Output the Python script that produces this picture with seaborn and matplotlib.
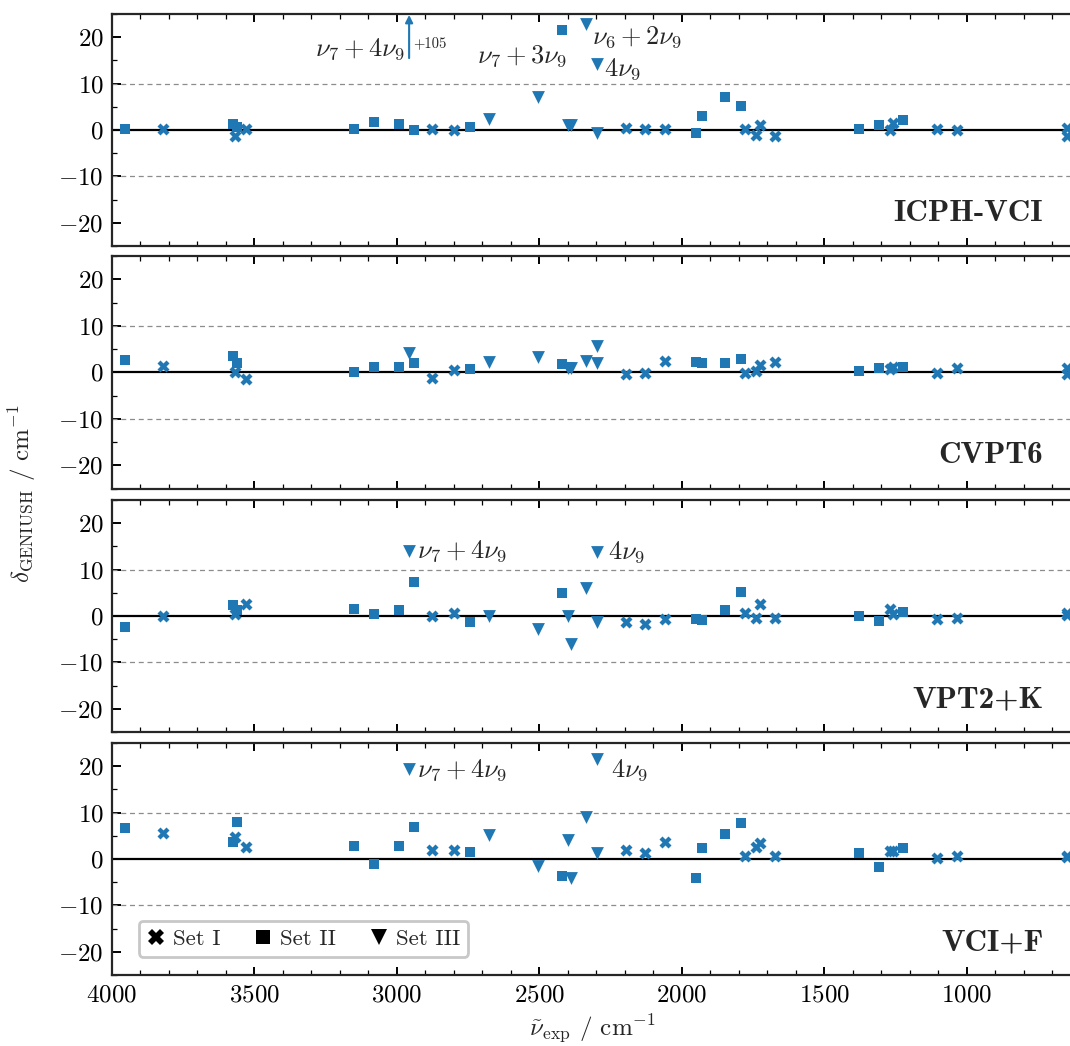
import numpy as np
import pandas as pd
import matplotlib
matplotlib.use("Agg")
import matplotlib.pyplot as plt
import seaborn as sns
from matplotlib.lines import Line2D
from matplotlib.ticker import MultipleLocator

# Experimental band origins (cm^-1) and the set each band belongs to
nu_exp = [3954, 3822, 3574, 3562, 3567, 3530, 3150, 3079, 2994, 2957,
          2939, 2875, 2801, 2743, 2676, 2503, 2421, 2399, 2390, 2337,
          2299, 2299, 2194, 2130, 2060, 1951, 1930, 1848, 1793, 1778,
          1738, 1726, 1672, 1378, 1307, 1270, 1258, 1222, 1105, 1035,
          646, 648]
band_set = ["Set II", "Set I", "Set II", "Set II", "Set I", "Set I", "Set II", "Set II", "Set II", "Set III",
            "Set II", "Set I", "Set I", "Set II", "Set III", "Set III", "Set II", "Set III", "Set III", "Set III",
            "Set III", "Set III", "Set I", "Set I", "Set I", "Set II", "Set II", "Set II", "Set II", "Set I",
            "Set I", "Set I", "Set I", "Set II", "Set II", "Set I", "Set I", "Set II", "Set I", "Set I",
            "Set I", "Set I"]

# Deviations from the GENIUSH reference (cm^-1), one list per method
delta_icph_vci = [0.2, 0.2, 1.3, 0.6, -1.4, 0.2, 0.2, 1.7, 1.4, 105.0,
                  -0.1, 0.3, 0.0, 0.6, 2.4, 7.2, 21.5, 1.1, 1.0, 22.9,
                  14.2, -0.7, 0.5, 0.2, 0.2, -0.7, 3.1, 7.2, 5.2, 0.2,
                  -1.0, 1.0, -1.4, 0.2, 1.0, 0.0, 1.6, 2.2, 0.2, 0.0,
                  0.4, -1.4]
delta_cvpt6 = [2.6, 1.4, 3.4, 1.9, 0.1, -1.5, 0.1, 1.1, 1.1, 4.1,
               1.9, -1.3, 0.5, 0.8, 2.1, 3.3, 1.7, 1.0, 0.9, 2.4,
               5.7, 1.9, -0.4, -0.2, 2.4, 2.3, 1.9, 1.9, 2.9, -0.2,
               0.3, 1.5, 2.1, 0.3, 1.0, 0.6, 1.2, 1.2, -0.2, 0.9,
               1.0, -0.3]
delta_vpt2k = [-2.3, 0.0, 2.4, 1.2, 0.5, 2.5, 1.6, 0.4, 1.2, 14.0,
               7.4, 0.0, 0.6, -1.2, -0.1, -2.8, 4.9, 0.1, -6.1, 6.0,
               13.8, -1.2, -1.2, -1.8, -0.6, -0.6, -0.9, 1.4, 5.2, 0.6,
               -0.4, 2.5, -0.5, -0.1, -1.1, 1.6, 0.5, 0.9, -0.6, -0.4,
               0.6, 0.3]
delta_vcif = [6.6, 5.5, 3.7, 8.0, 4.8, 2.5, 2.8, -1.1, 2.8, 19.3,
              6.8, 1.9, 1.9, 1.6, 5.2, -1.5, -3.7, 4.2, -4.2, 9.1,
              21.6, 1.4, 1.9, 1.2, 3.7, -4.0, 2.3, 5.4, 7.7, 0.6,
              2.6, 3.4, 0.6, 1.2, -1.7, 1.7, 1.7, 2.3, 0.2, 0.6,
              0.6, 0.5]

methods = ["ICPH-VCI", "CVPT6", "VPT2+K", "VCI+F"]
deltas = [delta_icph_vci, delta_cvpt6, delta_vpt2k, delta_vcif]

# Assignments written next to selected bands: (panel, band index, label, dx px, dy px, ha)
assignments = [
    (0, 16, r"$\nu_7+3\nu_9$", 6, -32, "right"),
    (0, 19, r"$\nu_6+2\nu_9$", 6, -20, "left"),
    (0, 20, r"$4\nu_9$", 7, -11, "left"),
    (2, 9, r"$\nu_7+4\nu_9$", 8, -6, "left"),
    (2, 20, r"$4\nu_9$", 11, -7, "left"),
    (3, 9, r"$\nu_7+4\nu_9$", 8, -7, "left"),
    (3, 20, r"$4\nu_9$", 14, -18, "left"),
]
offscale_label = r"$\nu_7+4\nu_9$"

set_markers = {"Set I": "X", "Set II": "s", "Set III": "v"}
set_sizes = {"Set I": 75, "Set II": 62, "Set III": 85}
legend_sizes = {"Set I": 11, "Set II": 10, "Set III": 11.5}

frames = []
for m, d in zip(methods, deltas):
    frames.append(pd.DataFrame({"nu": nu_exp, "delta": d, "set": band_set, "method": m}))
data = pd.concat(frames, ignore_index=True)

sns.set_style("ticks")
plt.rcParams.update({
    "font.family": "serif",
    "font.serif": ["cmr10"],
    "mathtext.fontset": "cm",
    "axes.formatter.use_mathtext": True,
    "axes.linewidth": 1.6,
    "xtick.direction": "in",
    "ytick.direction": "in",
    "xtick.major.size": 6,
    "xtick.minor.size": 3.5,
    "ytick.major.size": 6.5,
    "ytick.minor.size": 3.5,
    "xtick.major.width": 1.4,
    "ytick.major.width": 1.4,
    "xtick.minor.width": 0.9,
    "ytick.minor.width": 0.9,
    "xtick.labelsize": 18,
    "ytick.labelsize": 18,
    "xtick.color": "black",
    "ytick.color": "black",
})

W, H = 1070, 1046
fig = plt.figure(figsize=(W / 100, H / 100), dpi=100)
left_px, right_px = 112, 1072
panel_px = [(14, 246), (256, 488.5), (500, 732), (743, 975)]
color = "#1f77b4"
ylo, yhi = -25, 25

axes = []
for i, (top, bot) in enumerate(panel_px):
    ax = fig.add_axes([left_px / W, 1 - bot / H, (right_px - left_px) / W, (bot - top) / H])
    axes.append(ax)
    sub = data[data["method"] == methods[i]]
    inside = sub[sub["delta"] <= yhi]
    for s_name, marker in set_markers.items():
        part = inside[inside["set"] == s_name]
        sns.scatterplot(data=part, x="nu", y="delta", marker=marker, color=color,
                        s=set_sizes[s_name], linewidth=0, ax=ax, legend=False, zorder=3)

    ax.axhline(0, color="black", lw=1.6, zorder=2)
    for yv in (-10, 10):
        ax.axhline(yv, color="#8c8c8c", lw=0.9, ls=(0, (4, 3)), zorder=1)

    ax.set_xlim(4000, 630)
    ax.set_ylim(ylo, yhi)
    ax.xaxis.set_major_locator(MultipleLocator(500))
    ax.xaxis.set_minor_locator(MultipleLocator(100))
    ax.yaxis.set_major_locator(MultipleLocator(10))
    ax.yaxis.set_minor_locator(MultipleLocator(5))
    ax.tick_params(which="both", top=True, right=False, direction="in")
    ax.tick_params(axis="x", pad=7)
    ax.tick_params(axis="y", pad=6)
    ax.set_xlabel("")
    ax.set_ylabel("")
    if i < 3:
        ax.tick_params(axis="x", labelbottom=False)

    ax.text(0.970, 0.108, methods[i], transform=ax.transAxes, ha="right", va="baseline",
            fontsize=22.5, fontfamily="cmb10")

    # bands whose deviation runs off the panel get an arrow with the value
    off = sub[sub["delta"] > yhi]
    for _, row in off.iterrows():
        ax.annotate("", xy=(row["nu"], yhi - 0.2), xytext=(row["nu"], 15.5),
                    arrowprops=dict(arrowstyle="-|>", color=color, lw=1.5,
                                    mutation_scale=11, shrinkA=0, shrinkB=0))
        ax.annotate(f"+{row['delta']:.0f}", xy=(row["nu"], 18.6), xytext=(4, 0),
                    textcoords="offset pixels", ha="left", va="center", fontsize=10.5)
        ax.annotate(offscale_label, xy=(row["nu"], 16.1), xytext=(-4, 0),
                    textcoords="offset pixels", ha="right", va="baseline", fontsize=19)

for p, idx, label, dx, dy, ha in assignments:
    ax = axes[p]
    ax.annotate(label, xy=(nu_exp[idx], deltas[p][idx]), xytext=(dx, dy),
                textcoords="offset pixels", ha=ha, va="baseline", fontsize=19)

axes[-1].set_xlabel(r"$\tilde{\nu}_\mathrm{exp}$ / cm$^{-1}$", fontsize=18, labelpad=4)
fig.text(22 / W, 1 - 494 / H, r"$\delta_\mathrm{GENIUSH}$ / cm$^{-1}$", rotation=90,
         ha="center", va="center", fontsize=18)

handles = [Line2D([], [], marker=set_markers[k], color="black", linestyle="",
                  markersize=legend_sizes[k], markeredgewidth=0, label=k)
           for k in set_markers]
leg = axes[-1].legend(handles=handles, loc="lower left", bbox_to_anchor=(0.028, 0.078),
                      borderaxespad=0, ncol=3, handlelength=0.8, handletextpad=0.35,
                      columnspacing=1.45, fontsize=16.5, frameon=True, framealpha=1,
                      edgecolor="#c8c8c8", fancybox=True, borderpad=0.35)
leg.get_frame().set_linewidth(2)

fig.savefig("out.png", dpi=100)
